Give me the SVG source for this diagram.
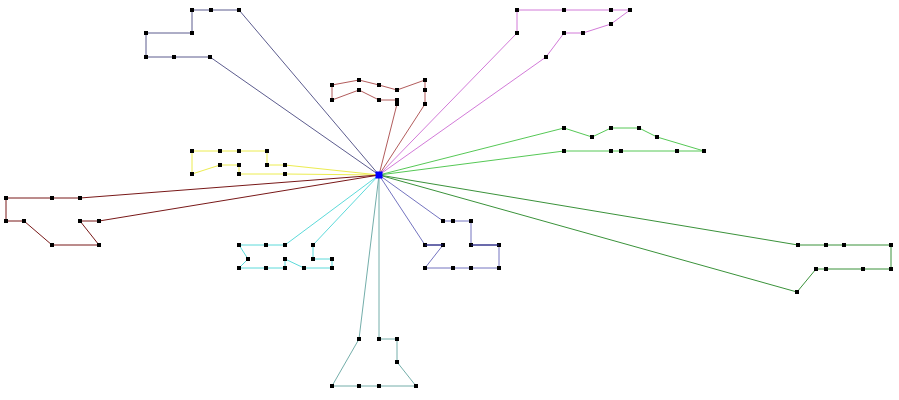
<svg xmlns="http://www.w3.org/2000/svg" width="899" height="400" viewBox="0 0 899 400">
<defs>
<marker id="pt" viewBox="0 0 4 4" refX="2" refY="2" markerWidth="4" markerHeight="4" markerUnits="userSpaceOnUse"><rect width="4" height="4" fill="#000"/></marker>
</defs>
<style>
.s{fill:none;stroke-width:1;marker-start:url(#pt);marker-mid:url(#pt);marker-end:url(#pt)}
.c{fill:none;stroke-width:1}
.k1{stroke:#5c5c8e}.k2{stroke:#d27ad8}.k3{stroke:#b25c5c}.k4{stroke:#ecec50}.k5{stroke:#56c856}
.k6{stroke:#781818}.k7{stroke:#5cdada}.k8{stroke:#7474c0}.k9{stroke:#3a923a}.k10{stroke:#74aeaa}
</style>
<rect width="899" height="400" fill="#fff"/>
<g id="connectors">
<line class="c k1" x1="239" y1="10" x2="379" y2="175"/>
<line class="c k1" x1="210" y1="57" x2="379" y2="175"/>
<line class="c k2" x1="517" y1="33" x2="379" y2="175"/>
<line class="c k2" x1="546" y1="57" x2="379" y2="175"/>
<line class="c k3" x1="397" y1="104" x2="379" y2="175"/>
<line class="c k3" x1="425" y1="104" x2="379" y2="175"/>
<line class="c k4" x1="285" y1="165" x2="379" y2="175"/>
<line class="c k4" x1="285" y1="174" x2="379" y2="175"/>
<line class="c k5" x1="564" y1="128" x2="379" y2="175"/>
<line class="c k5" x1="564" y1="151" x2="379" y2="175"/>
<line class="c k6" x1="80" y1="198" x2="379" y2="175"/>
<line class="c k6" x1="99" y1="221" x2="379" y2="175"/>
<line class="c k7" x1="285" y1="245" x2="379" y2="175"/>
<line class="c k7" x1="313" y1="245" x2="379" y2="175"/>
<line class="c k8" x1="443" y1="221" x2="379" y2="175"/>
<line class="c k8" x1="425" y1="245" x2="379" y2="175"/>
<line class="c k9" x1="798" y1="245" x2="379" y2="175"/>
<line class="c k9" x1="797" y1="292" x2="379" y2="175"/>
<line class="c k10" x1="359" y1="339" x2="379" y2="175"/>
<line class="c k10" x1="379" y1="339" x2="379" y2="175"/>
</g>
<g id="shape1"><polyline class="s k1" points="239,10 211,10 192,10 192,33 146,33 146,57 174,57 210,57"/></g>
<g id="shape2"><polyline class="s k2" points="517,33 517,10 564,10 611,10 630,10 611,24 583,33 564,33 546,57"/></g>
<g id="shape3"><polyline class="s k3" points="397,104 397,100 379,100 359,90 332,100 332,85 359,80 379,85 397,90 425,80 425,90 425,104"/></g>
<g id="shape4"><polyline class="s k4" points="285,165 267,165 267,151 239,151 220,151 192,151 192,174 220,165 239,165 239,174 285,174"/></g>
<g id="shape5"><polyline class="s k5" points="564,128 592,137 611,128 639,128 657,137 704,151 677,151 621,151 611,151 564,151"/></g>
<g id="shape6"><polyline class="s k6" points="80,198 52,198 6,198 6,221 24,221 52,245 99,245 80,221 99,221"/></g>
<g id="shape7"><polyline class="s k7" points="285,245 266,245 239,245 248,259 239,268 266,268 285,268 285,259 304,268 332,268 332,259 313,259 313,245"/></g>
<g id="shape8"><polyline class="s k8" points="443,221 453,221 471,221 471,245 499,245 499,268 471,268 453,268 425,268 443,245 425,245"/>
<line x1="425" y1="245" x2="443" y2="245" stroke="#1c1c78"/><line x1="471" y1="245" x2="499" y2="245" stroke="#1c1c78"/></g>
<g id="shape9"><polyline class="s k9" points="798,245 826,245 844,245 891,245 891,269 863,269 826,269 816,269 797,292"/></g>
<g id="shape10"><polyline class="s k10" points="359,339 332,386 359,386 379,386 416,386 397,362 397,339 379,339"/></g>
<g id="center"><rect x="375.5" y="171.5" width="7" height="7" fill="#0000ff"/></g>
</svg>
